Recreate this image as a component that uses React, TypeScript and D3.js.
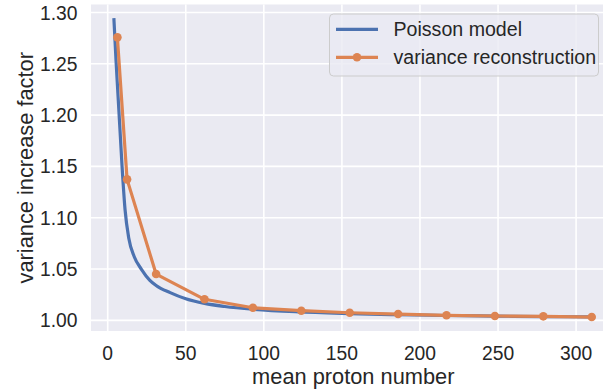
import React from "react";
import * as d3 from "d3";

const xTicks = [0, 50, 100, 150, 200, 250, 300];
const yTicks = [1.0, 1.05, 1.1, 1.15, 1.2, 1.25, 1.3];

// Poisson model curve
const poissonN = [4.0, 5.3, 6.5, 7.7, 9.2, 11.1, 13.5, 17, 21.5, 27, 31, 40, 50, 62, 75, 93, 124, 155, 186, 217, 248, 279, 310];
const poissonV = [1.293, 1.254, 1.222, 1.19, 1.15, 1.108, 1.08, 1.062, 1.05, 1.039, 1.034, 1.027, 1.021, 1.0165, 1.0135, 1.0108, 1.0082, 1.0066, 1.0055, 1.0047, 1.0041, 1.0037, 1.0033];

// variance reconstruction points
const reconN = [6.2, 12.4, 31, 62, 93, 124, 155, 186, 217, 248, 279, 310];
const reconV = [1.2758, 1.1374, 1.0451, 1.0205, 1.0123, 1.0094, 1.0074, 1.0061, 1.0049, 1.0042, 1.0039, 1.0032];

const legendLabels = ["Poisson model", "variance reconstruction"];
const xLabel = "mean proton number";
const yLabel = "variance increase factor";

const W = 603;
const H = 390;
const plot = { left: 91, right: 615.6, top: 4.5, bottom: 331 };
const BLUE = "#4C72B0";
const ORANGE = "#DD8452";
const TEXT = "#262626";
const FONT = "'Liberation Sans', Arial, sans-serif";
const TICK_FS = 19.3;
const LEG_FS = 19.6;
const LABEL_FS = 21.8;

export default function App() {
  const x = d3.scaleLinear().domain([-10.7, 325.3]).range([plot.left, plot.right]);
  const y = d3.scaleLinear().domain([0.9896, 1.3078]).range([plot.bottom, plot.top]);

  const poisson = poissonN.map((n, i) => [n, poissonV[i]] as [number, number]);
  const recon = reconN.map((n, i) => [n, reconV[i]] as [number, number]);
  const smooth = d3
    .line<[number, number]>()
    .curve(d3.curveMonotoneX)
    .x((d) => x(d[0]))
    .y((d) => y(d[1]));
  const line = d3
    .line<[number, number]>()
    .x((d) => x(d[0]))
    .y((d) => y(d[1]));

  const lx = 329.5;
  const ly = 14;
  const lw = 269;
  const lh = 62;

  return (
    <svg
      width={W}
      height={H}
      style={{ position: "absolute", left: 0, top: 0, overflow: "hidden", background: "#fff" }}
      fontFamily={FONT}
    >
      <defs>
        <clipPath id="plotclip">
          <rect x={plot.left} y={plot.top} width={plot.right - plot.left} height={plot.bottom - plot.top} />
        </clipPath>
      </defs>
      <rect x={plot.left} y={plot.top} width={plot.right - plot.left} height={plot.bottom - plot.top} fill="#EAEAF2" />
      {xTicks.map((t) => (
        <line key={"gx" + t} x1={x(t)} x2={x(t)} y1={plot.top} y2={plot.bottom} stroke="#fff" strokeWidth={1.6} />
      ))}
      {yTicks.map((t) => (
        <line key={"gy" + t} x1={plot.left} x2={plot.right} y1={y(t)} y2={y(t)} stroke="#fff" strokeWidth={1.6} />
      ))}
      <g clipPath="url(#plotclip)">
        <path d={smooth(poisson) || ""} fill="none" stroke={BLUE} strokeWidth={3.2} strokeLinecap="square" strokeLinejoin="round" />
        <path d={line(recon) || ""} fill="none" stroke={ORANGE} strokeWidth={3.2} strokeLinecap="square" strokeLinejoin="round" />
        {recon.map((d, i) => (
          <circle key={"m" + i} cx={x(d[0])} cy={y(d[1])} r={4.3} fill={ORANGE} />
        ))}
      </g>
      {xTicks.map((t) => (
        <text key={"tx" + t} x={x(t)} y={359.5} textAnchor="middle" fontSize={TICK_FS} fill={TEXT}>
          {t}
        </text>
      ))}
      {yTicks.map((t) => (
        <text key={"ty" + t} x={77.5} y={y(t) + 7} textAnchor="end" fontSize={TICK_FS} fill={TEXT}>
          {d3.format(".2f")(t)}
        </text>
      ))}
      <text x={(plot.left + plot.right) / 2} y={383.5} textAnchor="middle" fontSize={LABEL_FS} fill={TEXT}>
        {xLabel}
      </text>
      <text
        transform={`translate(33, ${(plot.top + plot.bottom) / 2}) rotate(-90)`}
        textAnchor="middle"
        fontSize={LABEL_FS}
        fill={TEXT}
      >
        {yLabel}
      </text>
      <g>
        <rect x={lx} y={ly} width={lw} height={lh} rx={4} fill="#EAEAF2" fillOpacity={0.8} stroke="#CCCCCC" strokeWidth={1} />
        <line x1={336} x2={378} y1={29.3} y2={29.3} stroke={BLUE} strokeWidth={3.2} />
        <line x1={336} x2={378} y1={57.3} y2={57.3} stroke={ORANGE} strokeWidth={3.2} />
        <circle cx={357} cy={57.3} r={4.3} fill={ORANGE} />
        <text x={393.5} y={36} fontSize={LEG_FS} fill={TEXT}>
          {legendLabels[0]}
        </text>
        <text x={393.5} y={64} fontSize={LEG_FS} fill={TEXT}>
          {legendLabels[1]}
        </text>
      </g>
    </svg>
  );
}
